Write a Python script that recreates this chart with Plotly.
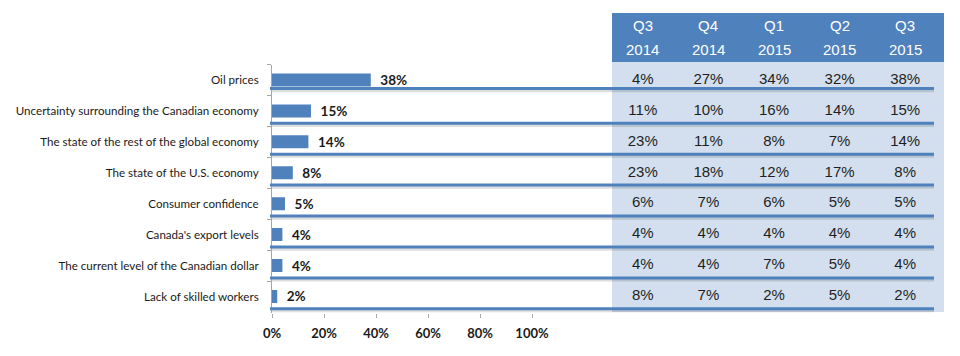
import plotly.graph_objects as go

# ---------------- data ----------------
categories = [
    "Oil prices",
    "Uncertainty surrounding the Canadian economy",
    "The state of the rest of the global economy",
    "The state of the U.S. economy",
    "Consumer confidence",
    "Canada's export levels",
    "The current level of the Canadian dollar",
    "Lack of skilled workers",
]
current_share = [0.38, 0.15, 0.14, 0.08, 0.05, 0.04, 0.04, 0.02]

quarters = ["Q3 2014", "Q4 2014", "Q1 2015", "Q2 2015", "Q3 2015"]
q3_2014 = [4, 11, 23, 23, 6, 4, 4, 8]
q4_2014 = [27, 10, 11, 18, 7, 4, 4, 7]
q1_2015 = [34, 16, 8, 12, 6, 4, 7, 2]
q2_2015 = [32, 14, 7, 17, 5, 4, 5, 5]
q3_2015 = [38, 15, 14, 8, 5, 4, 4, 2]
table_columns = [q3_2014, q4_2014, q1_2015, q2_2015, q3_2015]

x_ticks = [0, 0.2, 0.4, 0.6, 0.8, 1.0]

# ---------------- style ----------------
OFF = 8                      # default page body margin
W, H = 960 - OFF, 356 - OFF  # figure size so the page fits the window
BLUE = "#4F81BD"
LIGHT = "#D3DFEE"
CAT_FONT = "Lato"
TAB_FONT = "Liberation Sans"


def px(x):
    return (x - OFF) / W


def py(y):
    return 1 - (y - OFF) / H


fig = go.Figure()

fig.add_trace(go.Bar(
    x=current_share, y=categories, orientation="h",
    marker=dict(color=BLUE, line=dict(width=0)),
    width=0.42,
    texttemplate="\u00a0\u00a0%{x:.0%}",
    textposition="outside",
    constraintext="none",
    textfont=dict(family=CAT_FONT, size=13.5, color="#1a1a1a", weight="bold"),
    cliponaxis=False,
    hoverinfo="skip",
    showlegend=False,
))

# table values as text on a second x axis sharing the y axis
tx, ty, tt = [], [], []
for q, col in zip(quarters, table_columns):
    for cat, v in zip(categories, col):
        tx.append(q)
        ty.append(cat)
        tt.append(f"{v}%")
fig.add_trace(go.Scatter(
    x=tx, y=ty, text=tt, mode="text", xaxis="x2", yaxis="y",
    textfont=dict(family=TAB_FONT, size=15, color="#1f1f1f"),
    textposition="middle center",
    hoverinfo="skip", showlegend=False, cliponaxis=False,
))

shapes = []
# table background and header band
shapes.append(dict(type="rect", xref="paper", yref="paper",
                   x0=px(612), x1=px(944), y0=py(312), y1=py(13),
                   fillcolor=LIGHT, line=dict(width=0), layer="below"))
shapes.append(dict(type="rect", xref="paper", yref="paper",
                   x0=px(612), x1=px(944), y0=py(62), y1=py(13),
                   fillcolor=BLUE, line=dict(width=0), layer="below"))
# row separators (positioned in category units)
for i in range(len(categories)):
    yy = i + (0.28 if i == 0 else 0.4)
    shapes.append(dict(type="line", xref="paper", yref="y",
                       x0=px(272), x1=px(934), y0=yy + 0.07, y1=yy + 0.07,
                       line=dict(color="rgba(0,0,0,0.13)", width=3), layer="above"))
    shapes.append(dict(type="line", xref="paper", yref="y",
                       x0=px(270), x1=px(934), y0=yy, y1=yy,
                       line=dict(color=BLUE, width=3), layer="above"))

annotations = []
for q in quarters:
    a, b = q.split(" ")
    annotations.append(dict(x=q, xref="x2", y=py(26), yref="paper", yanchor="middle",
                            text=a, showarrow=False,
                            font=dict(family=TAB_FONT, size=15, color="white")))
    annotations.append(dict(x=q, xref="x2", y=py(49), yref="paper", yanchor="middle",
                            text=b, showarrow=False,
                            font=dict(family=TAB_FONT, size=15, color="white")))

fig.update_layout(
    width=W, height=H,
    margin=dict(l=0, r=0, t=0, b=0, autoexpand=False),
    paper_bgcolor="white", plot_bgcolor="rgba(0,0,0,0)",
    shapes=shapes, annotations=annotations,
    xaxis=dict(
        domain=[px(272), px(532)], range=[0, 1],
        tickvals=x_ticks, tickformat=".0%",
        ticks="outside", ticklen=4, tickcolor="#A6A6A6",
        showgrid=False, zeroline=False, showline=False,
        tickfont=dict(family=CAT_FONT, size=13, color="#1a1a1a", weight="bold"),
        ticklabelstandoff=5,
    ),
    xaxis2=dict(
        domain=[px(610), px(938)], type="category", categoryarray=quarters,
        range=[-0.5, len(quarters) - 0.5], anchor="y",
        showticklabels=False, showgrid=False, zeroline=False, showline=False, ticks="",
    ),
    yaxis=dict(
        domain=[py(312.5), py(64.5)],
        autorange="reversed", type="category", categoryarray=categories,
        tickson="boundaries", ticks="outside", ticklen=4, tickcolor="#A6A6A6",
        showline=True, linecolor="#A6A6A6", linewidth=1,
        showgrid=False, zeroline=False,
        tickfont=dict(family=CAT_FONT, size=11.6, color="#1a1a1a"),
        ticklabelstandoff=10,
    ),
    font=dict(family=CAT_FONT),
)

fig.write_html("out.html")
